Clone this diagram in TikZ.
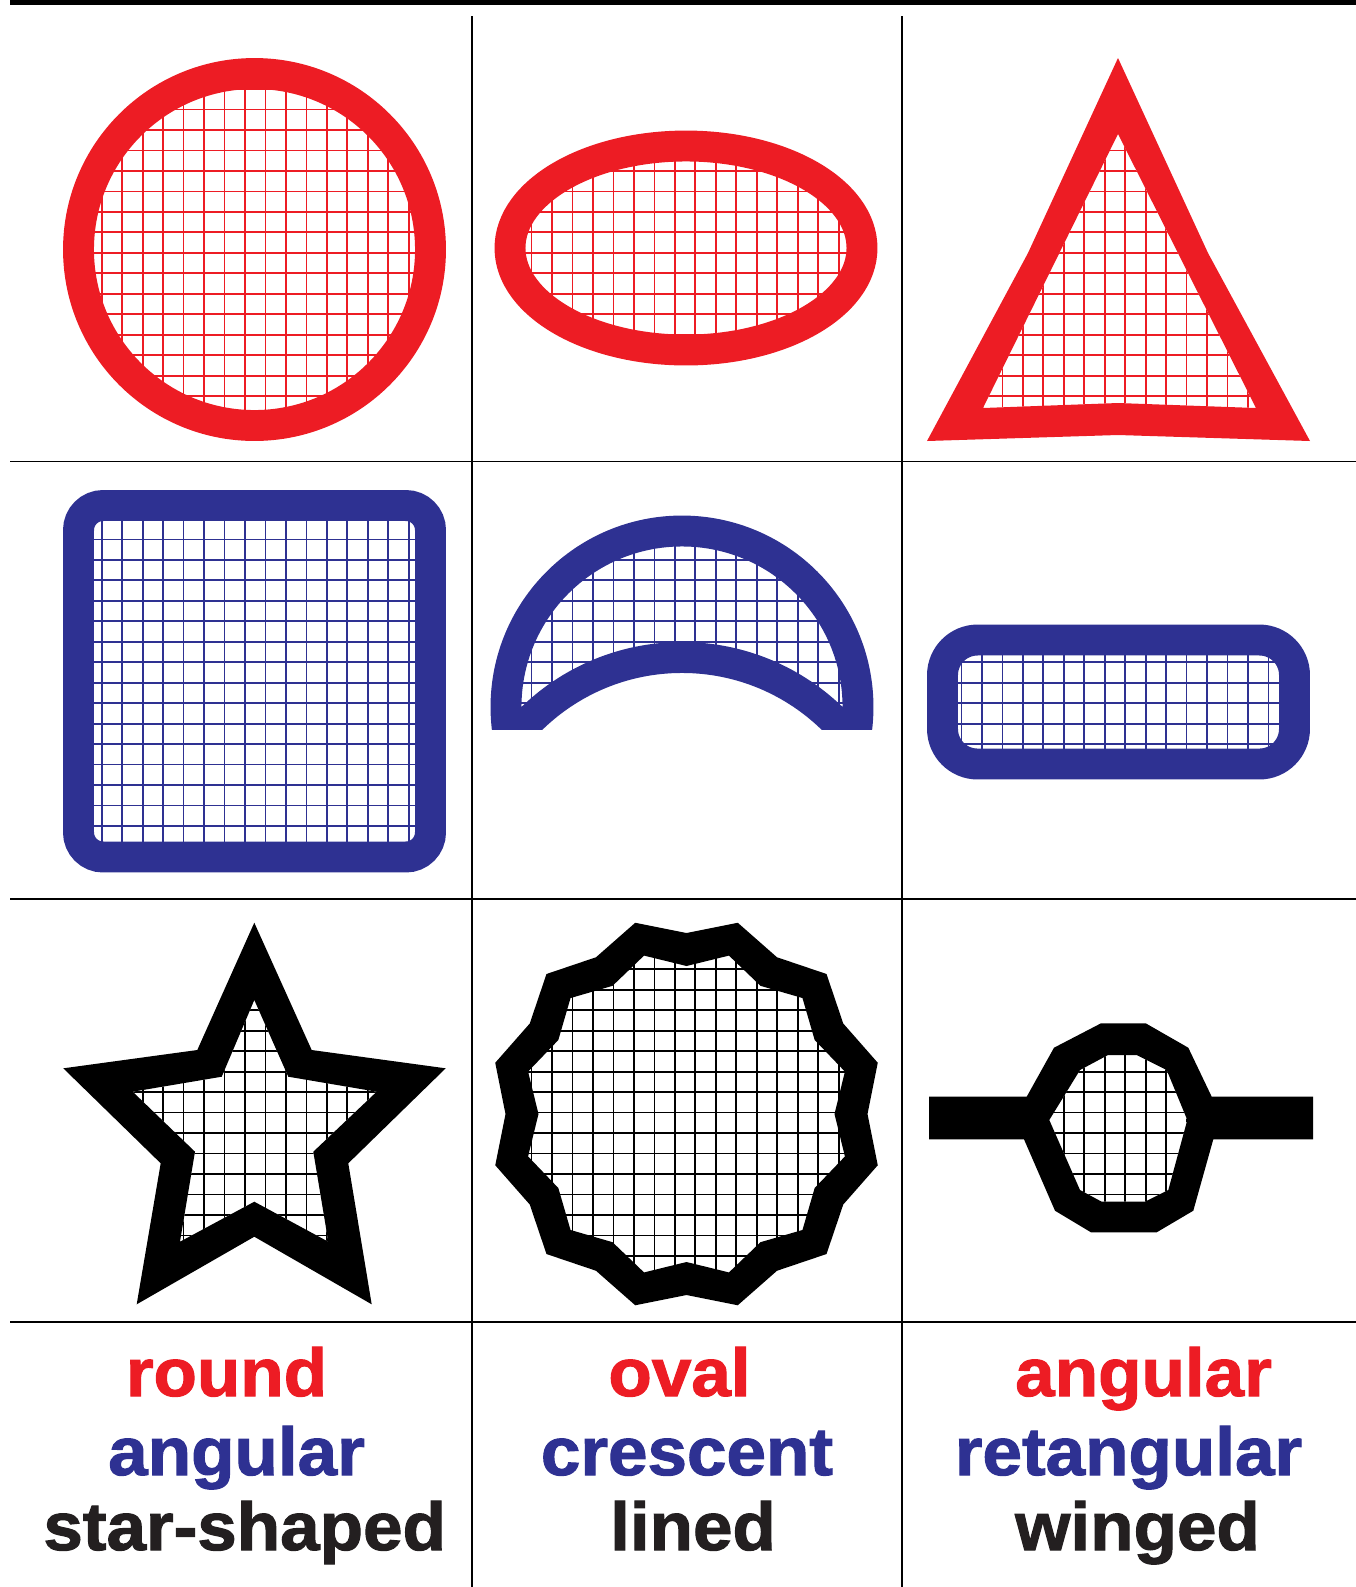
\documentclass[tikz,border=0pt]{standalone}
\usepackage{fontspec}
\newfontfamily\labelfont{Liberation Sans}[FakeStretch=1.05,BoldFeatures={FakeBold=1.6}]
\definecolor{shapered}{HTML}{ED1C24}
\definecolor{shapeblue}{HTML}{2E3192}
\definecolor{inkblack}{HTML}{231F20}
\tikzset{
  cellline/.style={draw=black,line width=1.1pt},
  band/.style={line width=17.6pt},
  meshline/.style={line width=1pt},
  wordlabel/.style={anchor=base,inner sep=0pt,font=\labelfont\bfseries\fontsize{38.5pt}{40pt}\selectfont}
}
\newcommand{\meshgrid}[1]{%
  \foreach \n in {0,...,65} {\draw[meshline,#1] ({19.82+20.47*\n},0) -- ({19.82+20.47*\n},-1587);}
  \foreach \n in {0,...,77} {\draw[meshline,#1] (0,{-7.18-20.47*\n}) -- (1356,{-7.18-20.47*\n});}
}
\begin{document}
\begin{tikzpicture}[x=0.02cm,y=0.02cm]
\useasboundingbox (0,0) rectangle (1356,-1587);
\draw[line width=2.8pt] (10,-2.5) -- (1356,-2.5);
\draw[cellline] (10,-461.5) -- (1356,-461.5);
\draw[cellline] (10,-899) -- (1356,-899);
\draw[cellline] (10,-1322) -- (1356,-1322);
\draw[cellline] (472,-16) -- (472,-1587);
\draw[cellline] (902,-16) -- (902,-1587);
% red row
\begin{scope}
\clip (254.5,-249.5) circle (176);
\meshgrid{shapered}
\end{scope}
\draw[band,shapered] (254.5,-249.5) circle (176);
\begin{scope}
\clip (686,-248) ellipse (176 and 102);
\meshgrid{shapered}
\end{scope}
\draw[band,shapered] (686,-248) ellipse (176 and 102);
\begin{scope}
\clip (1118,-134) -- (983,-408) -- (1118,-403) -- (1256,-408) -- cycle;
\meshgrid{shapered}
\end{scope}
\fill[shapered,even odd rule] (1118,-58) -- (1028,-253) -- (927,-441) -- (1118,-435) -- (1310,-441) -- (1208,-253) -- cycle
  (1118,-134) -- (983,-408) -- (1118,-403) -- (1256,-408) -- cycle;
% blue row
\begin{scope}
\clip[rounded corners=14pt] (78.5,-505.5) rectangle (430.5,-857);
\meshgrid{shapeblue}
\end{scope}
\draw[band,shapeblue,rounded corners=14pt] (78.5,-505.5) rectangle (430.5,-857);
\begin{scope}
\clip (480,-470) rectangle (895,-729);
\begin{scope}
\clip (682,-707) circle (176);
\meshgrid{shapeblue}
\end{scope}
\fill[white] (682,-873) circle (215.5);
\draw[band,shapeblue] (682,-707) circle (176) (682,-873) circle (215.5);
\end{scope}
\begin{scope}
\clip[rounded corners=20pt] (942.5,-640) rectangle (1294.5,-764);
\meshgrid{shapeblue}
\end{scope}
\draw[band,shapeblue,rounded corners=20pt] (942.5,-640) rectangle (1294.5,-764);
% black row
\begin{scope}
\clip (254.3,-1000) -- (288.3,-1076.7) -- (376.7,-1091.7) -- (313.3,-1151.7) -- (328.3,-1241.7) -- (254.3,-1201.7)
  -- (180,-1241.7) -- (195,-1151.7) -- (132.7,-1091.7) -- (221.7,-1076.7) -- cycle;
\meshgrid{black}
\end{scope}
\fill[black,even odd rule] (254.3,-922.7) -- (311.7,-1050) -- (445.7,-1068.3) -- (348.3,-1163.3) -- (371.7,-1304.3) -- (254.3,-1236.7)
  -- (136.7,-1304.3) -- (160.7,-1163.3) -- (63.3,-1068.3) -- (197.3,-1050) -- cycle
  (254.3,-1000) -- (288.3,-1076.7) -- (376.7,-1091.7) -- (313.3,-1151.7) -- (328.3,-1241.7) -- (254.3,-1201.7)
  -- (180,-1241.7) -- (195,-1151.7) -- (132.7,-1091.7) -- (221.7,-1076.7) -- cycle;
\begin{scope}
\clip (686.5,-1114) circle (170);
\meshgrid{black}
\end{scope}
\begin{scope}[shift={(686.5,-1114)}]
\fill[black,even odd rule] (0:181) \foreach \a in {0,30,...,330} { -- ({\a+15}:198) -- ({\a+30}:181) } -- cycle
  (0:148) \foreach \a in {0,30,...,330} { -- ({\a+15}:164) -- ({\a+30}:148) } -- cycle;
\end{scope}
\begin{scope}
\clip (1108,-1055) -- (1136.7,-1055) -- (1166.7,-1070) -- (1187.3,-1120) -- (1168.3,-1190) -- (1145,-1201.7)
  -- (1101.7,-1201.7) -- (1080,-1190) -- (1049.3,-1120) -- (1080,-1070) -- cycle;
\meshgrid{black}
\end{scope}
\fill[black,even odd rule] (1101,-1023.3) -- (1145.7,-1023.3) -- (1188.3,-1047.7) -- (1211.7,-1096.7) -- (1313,-1096.7)
  -- (1313,-1139.3) -- (1213.3,-1139.3) -- (1193.3,-1210.7) -- (1156.7,-1232.3) -- (1091,-1232.3) -- (1055,-1210.7)
  -- (1024,-1139.3) -- (929,-1139.3) -- (929,-1096.7) -- (1026.7,-1096.7) -- (1054,-1047.7) -- cycle
  (1108,-1055) -- (1136.7,-1055) -- (1166.7,-1070) -- (1187.3,-1120) -- (1168.3,-1190) -- (1145,-1201.7)
  -- (1101.7,-1201.7) -- (1080,-1190) -- (1049.3,-1120) -- (1080,-1070) -- cycle;
% labels
\node[wordlabel,shapered] (round) at (226.5,-1396) {round};
\node[wordlabel,shapeblue] (angularA) at (236.5,-1475) {angular};
\node[wordlabel,inkblack] (starshaped) at (244.7,-1550) {star-shaped};
\node[wordlabel,shapered] (oval) at (679.5,-1396) {oval};
\node[wordlabel,shapeblue] (crescent) at (687,-1475) {crescent};
\node[wordlabel,inkblack] (lined) at (693,-1550) {lined};
\node[wordlabel,shapered] (angularB) at (1143.5,-1396) {angular};
\node[wordlabel,shapeblue] (retangular) at (1128.5,-1475) {retangular};
\node[wordlabel,inkblack] (winged) at (1137.5,-1550) {winged};
\end{tikzpicture}
\end{document}
